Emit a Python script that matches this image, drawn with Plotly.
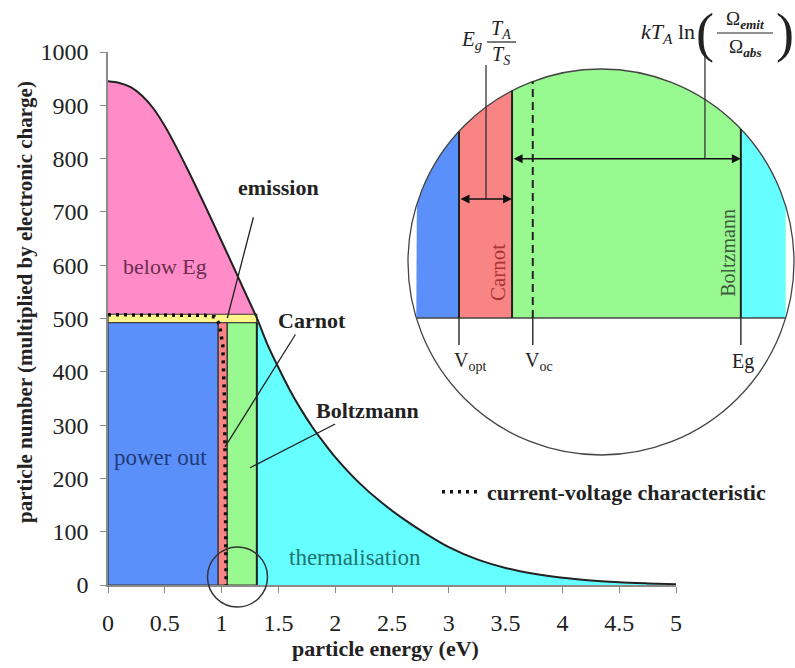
import numpy as np
import plotly.graph_objects as go

W, H = 795, 668

# ---------------- main chart data ----------------
energy = [0, 0.1, 0.2, 0.3, 0.4, 0.5, 0.6, 0.7, 0.8, 0.9, 1.0, 1.1, 1.2, 1.31,
          1.4, 1.5, 1.6, 1.7, 1.8, 1.9, 2.0, 2.2, 2.4, 2.6, 2.8, 3.0, 3.25,
          3.5, 3.75, 4.0, 4.25, 4.5, 4.75, 5.0]
particles = [945, 942, 934, 918, 894, 861, 822, 780, 736, 691, 645, 599, 552, 501,
             453, 408, 366, 329, 296, 267, 240, 194, 156, 124, 96, 71, 48,
             32, 21, 13.5, 8.5, 5, 3, 1.5]

eg = 1.31            # band gap (eV)
v_opt = 0.97         # optimal voltage
carnot_edge = 1.05   # end of Carnot strip
power_top = 492      # top of power-out / Carnot / Boltzmann blocks
emission_top = 508   # top of the emission strip

iv_voltage = [0, 0.3, 0.6, 0.85, 0.94, 0.98, 1.01, 1.025, 1.03, 1.035, 1.04]
iv_current = [507, 507, 507, 506, 503, 490, 450, 350, 250, 120, 0]

x_ticks = [0, 0.5, 1, 1.5, 2, 2.5, 3, 3.5, 4, 4.5, 5]
x_tick_text = ["0", "0.5", "1", "1.5", "2", "2.5", "3", "3.5", "4", "4.5", "5"]
y_ticks = [0, 100, 200, 300, 400, 500, 600, 700, 800, 900, 1000]

# ---------------- inset (magnified view) ----------------
inset_edges = [0.97, 1.034, 1.31]          # V_opt, Carnot/Boltzmann edge, Eg
inset_voc = 1.059
inset_marks = [0.97, 1.059, 1.31]
inset_mark_text = ["V<sub>opt</sub>", "V<sub>oc</sub>", "Eg"]
inset_mark_shift = [0.013, 0.008, 0.003]

COL_PINK = "#FF8CC8"
COL_BLUE = "#5B90FA"
COL_RED = "#F88484"
COL_GREEN = "#99F991"
COL_CYAN = "#66FFFF"
COL_YELLOW = "#FFF68C"
FONT = "Liberation Serif"

# main axes placement (pixels)
MX0, MX1, MY0, MY1 = 108, 676, 52, 585
XR, YR = (0, 5), (0, 1000)


def px_paper(px, py):
    return px / W, (H - py) / H


def main_paper(x, y):
    px = MX0 + (x - XR[0]) / (XR[1] - XR[0]) * (MX1 - MX0)
    py = MY1 - (y - YR[0]) / (YR[1] - YR[0]) * (MY1 - MY0)
    return px_paper(px, py)


fig = go.Figure()

e = np.array(energy)
p = np.array(particles)
below = e <= eg
above = e >= eg

# pink: below Eg region
fig.add_trace(go.Scatter(x=e[below], y=p[below], fill="tozeroy", fillcolor=COL_PINK,
                         line=dict(width=0, shape="spline", smoothing=0.8), mode="lines",
                         hoverinfo="skip", showlegend=False))
# cyan: thermalisation
fig.add_trace(go.Scatter(x=e[above], y=p[above], fill="tozeroy", fillcolor=COL_CYAN,
                         line=dict(width=0, shape="spline", smoothing=0.8), mode="lines",
                         hoverinfo="skip", showlegend=False))


def rect(x0, x1, y0, y1, color, lw=1.2):
    fig.add_trace(go.Scatter(x=[x0, x1, x1, x0, x0], y=[y0, y0, y1, y1, y0], fill="toself",
                             fillcolor=color, mode="lines", line=dict(color="#333", width=lw),
                             hoverinfo="skip", showlegend=False))


rect(0, eg, power_top, emission_top, COL_YELLOW)
rect(0, v_opt, 0, power_top, COL_BLUE)
rect(v_opt, carnot_edge, 0, power_top, COL_RED)
rect(carnot_edge, eg, 0, power_top, COL_GREEN)

# Eg vertical line
fig.add_trace(go.Scatter(x=[eg, eg], y=[0, power_top], mode="lines",
                         line=dict(color="#222", width=2), hoverinfo="skip", showlegend=False))
# curve
fig.add_trace(go.Scatter(x=e, y=p, mode="lines", line=dict(color="#222", width=2, shape="spline", smoothing=0.8),
                         hoverinfo="skip", showlegend=False))
# current-voltage characteristic
fig.add_trace(go.Scatter(x=iv_voltage, y=iv_current, mode="lines", name="current-voltage characteristic",
                         line=dict(color="#111", width=3.5, dash="3px,5px"), hoverinfo="skip",
                         showlegend=True))

# ---------------- inset geometry ----------------
cx, cy, rx, ry = 1.1413, 16.33, 0.2328, 56.27
inset_xrange = [cx - rx * (601 - 400) / 193, cx + rx * (795 - 601) / 193]
inset_yrange = [cy - ry * (460 - 262) / 193, cy + ry * (262 - 0) / 193]


def arc_top(x):
    x = np.asarray(x, dtype=float)
    return cy + ry * np.sqrt(np.clip(1 - ((x - cx) / rx) ** 2, 0, None))


half = rx * np.sqrt(1 - (cy / ry) ** 2)
left_x, right_x = cx - half, cx + half
bounds = [left_x] + inset_edges + [right_x]
cols = [COL_BLUE, COL_RED, COL_GREEN, COL_CYAN]
for a, b, c in zip(bounds[:-1], bounds[1:], cols):
    xs = np.linspace(a, b, 80)
    ys = arc_top(xs)
    fig.add_trace(go.Scatter(x=np.concatenate([[a], xs, [b, a]]),
                             y=np.concatenate([[0], ys, [0, 0]]),
                             fill="toself", fillcolor=c, mode="lines", line=dict(width=0),
                             xaxis="x2", yaxis="y2", hoverinfo="skip", showlegend=False))

shapes = []
# circle outline
shapes.append(dict(type="circle", xref="x2", yref="y2", x0=cx - rx, x1=cx + rx, y0=cy - ry, y1=cy + ry,
                   line=dict(color="#444", width=1.3), layer="above"))
# chord baseline
shapes.append(dict(type="line", xref="x2", yref="y2", x0=left_x, x1=right_x, y0=0, y1=0,
                   line=dict(color="#444", width=1.5)))
# edges
for xe in inset_edges:
    shapes.append(dict(type="line", xref="x2", yref="y2", x0=xe, x1=xe, y0=0, y1=float(arc_top(xe)),
                       line=dict(color="#222", width=2)))
# Voc dashed above baseline
shapes.append(dict(type="line", xref="x2", yref="y2", x0=inset_voc, x1=inset_voc, y0=0,
                   y1=float(arc_top(inset_voc)), line=dict(color="#222", width=2, dash="8px,5px")))
# ticks below baseline
for xm in inset_marks:
    shapes.append(dict(type="line", xref="x2", yref="y2", x0=xm, x1=xm, y0=-7.9, y1=0,
                       line=dict(color="#333", width=1.5)))
# leader lines for formulas
shapes.append(dict(type="line", xref="x2", yref="y2", x0=1.0026, x1=1.0026, y0=34.7, y1=73.8,
                   line=dict(color="#333", width=1.3)))
shapes.append(dict(type="line", xref="x2", yref="y2", x0=1.2667, x1=1.2667, y0=46.4, y1=77.6,
                   line=dict(color="#333", width=1.3)))
# fraction bars
bx0, by = px_paper(487, 42)
bx1, _ = px_paper(516, 42)
shapes.append(dict(type="line", xref="paper", yref="paper", x0=bx0, x1=bx1, y0=by, y1=by,
                   line=dict(color="#222", width=1.2)))
bx0, by = px_paper(717, 33)
bx1, _ = px_paper(773, 33)
shapes.append(dict(type="line", xref="paper", yref="paper", x0=bx0, x1=bx1, y0=by, y1=by,
                   line=dict(color="#222", width=1.2)))

# main leader lines
for (x0, y0, x1, y1) in [(1.28, 690, 1.05, 501), (1.65, 470, 1.03, 259), (2.0, 302, 1.25, 220)]:
    shapes.append(dict(type="line", xref="x", yref="y", x0=x0, y0=y0, x1=x1, y1=y1,
                       line=dict(color="#222", width=1.3)))
# small circle around the magnified region
scx, scy = main_paper(1.14, 15)
r_px = 30
shapes.append(dict(type="circle", xref="paper", yref="paper",
                   x0=scx - r_px / W, x1=scx + r_px / W, y0=scy - r_px / H, y1=scy + r_px / H,
                   line=dict(color="#333", width=1.5)))

ann = []


def label(x, y, text, size=22, color="#222", bold=True, xref="x", yref="y", angle=0):
    t = "<b>" + text + "</b>" if bold else text
    ann.append(dict(x=x, y=y, xref=xref, yref=yref, text=t, showarrow=False, textangle=angle,
                    xanchor="center", yanchor="middle", font=dict(family=FONT, size=size, color=color)))


label(1.5, 745, "emission")
label(1.796, 497, "Carnot")
label(2.28, 328, "Boltzmann")
label(0.50, 597, "below Eg", size=22, color="#6b2d4f", bold=False)
label(0.46, 240, "power out", size=23, color="#1e3a78", bold=False)
label(2.17, 51, "thermalisation", size=23, color="#1d7373", bold=False)

# axis titles
tx, ty = px_paper(385, 648)
label(tx, ty, "particle energy (eV)", size=22, xref="paper", yref="paper")
tx, ty = px_paper(25, 302)
label(tx, ty, "particle number (multiplied by electronic charge)", size=21, xref="paper", yref="paper", angle=-90)

# inset texts
label(1.017, 13.4, "Carnot", size=21, color="#a83232", bold=False, xref="x2", yref="y2", angle=-90)
label(1.2945, 19.0, "Boltzmann", size=20, color="#3d5a3d", bold=False, xref="x2", yref="y2", angle=-90)
for xm, t, sh in zip(inset_marks, inset_mark_text, inset_mark_shift):
    label(xm + sh, -12.8, t, size=20, color="#222", bold=False, xref="x2", yref="y2")

# formulas
for (ppx, ppy, t, sz) in [(471, 40, "<i>E</i><sub><i>g</i></sub>", 21),
                          (501, 30, "<i>T</i><sub><i>A</i></sub>", 20),
                          (501, 55, "<i>T</i><sub><i>S</i></sub>", 20),
                          (668, 33, "<i>kT</i><sub><i>A</i></sub> ln", 22),
                          (705, 33, "(", 54),
                          (785, 33, ")", 54),
                          (745, 20, "Ω<sub><b><i>emit</i></b></sub>", 19),
                          (745, 48, "Ω<sub><b><i>abs</i></b></sub>", 19)]:
    xp, yp = px_paper(ppx, ppy)
    ann.append(dict(x=xp, y=yp, xref="paper", yref="paper", text=t, showarrow=False,
                    xanchor="center", yanchor="middle",
                    font=dict(family=FONT, size=sz, color="#222")))

# double arrows
for (xa, xb, ya) in [(0.97, 1.034, 34.7), (1.034, 1.31, 46.4)]:
    ann.append(dict(x=xb, y=ya, ax=xa, ay=ya, xref="x2", yref="y2", axref="x2", ayref="y2",
                    text="", showarrow=True, arrowhead=2, startarrowhead=2, arrowside="end+start",
                    arrowsize=1.2, arrowwidth=1.5, arrowcolor="#111", standoff=0, startstandoff=0))

axis_common = dict(showline=True, linecolor="#8a8a8a", linewidth=1.5, ticks="outside", ticklen=6,
                   tickcolor="#8a8a8a", tickwidth=1.2, showgrid=False, zeroline=False, automargin=False,
                   tickfont=dict(family=FONT, size=24, color="#222"))

lx0, ly0 = px_paper(400, 460)
fig.update_layout(
    width=W, height=H, margin=dict(l=0, r=0, t=0, b=0, autoexpand=False),
    paper_bgcolor="white", plot_bgcolor="rgba(0,0,0,0)",
    xaxis=dict(domain=[MX0 / W, MX1 / W], range=list(XR), tickvals=x_ticks, ticktext=x_tick_text,
               ticklabelstandoff=9, **axis_common),
    yaxis=dict(domain=[(H - MY1) / H, (H - MY0) / H], range=list(YR), tickvals=y_ticks,
               ticklabelstandoff=7, **axis_common),
    xaxis2=dict(domain=[lx0, 1.0], range=inset_xrange, visible=False, anchor="y2", automargin=False),
    yaxis2=dict(domain=[ly0, 1.0], range=inset_yrange, visible=False, anchor="x2", automargin=False),
    shapes=shapes,
    annotations=ann,
    legend=dict(x=437 / W, y=(H - 492) / H, xanchor="left", yanchor="middle", bgcolor="rgba(0,0,0,0)",
                itemwidth=40, font=dict(family=FONT, size=22, color="#222", weight="bold"), borderwidth=0),
    showlegend=True,
)

fig.write_html("out.html")
